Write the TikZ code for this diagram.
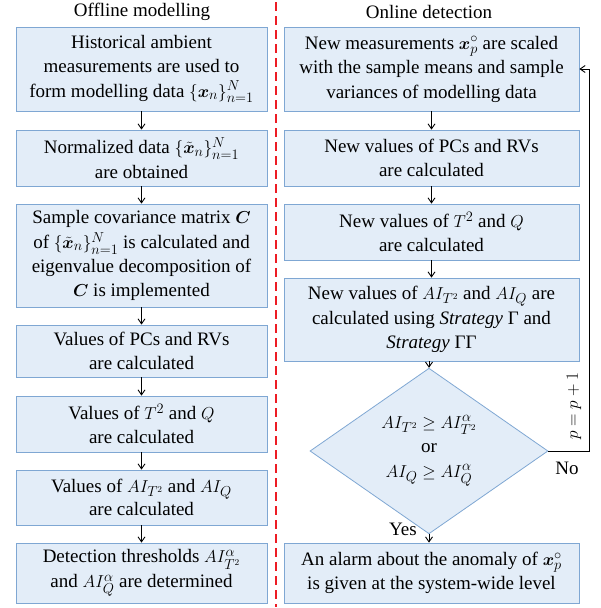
\documentclass[tikz,border=0pt]{standalone}
\usepackage{amsmath,bm}
\usepackage{fontspec}
\setmainfont{Liberation Serif}
\usetikzlibrary{shapes.geometric,arrows.meta}
\definecolor{boxfill}{RGB}{227,237,248}
\definecolor{boxline}{RGB}{127,167,211}
\definecolor{divred}{RGB}{237,28,36}
\tikzset{
  every node/.style={font=\fontsize{19}{23.5}\selectfont},
  stepbox/.style={draw=boxline, fill=boxfill, line width=0.8pt, align=center, inner sep=0pt},
  lbox/.style={stepbox, minimum width=251pt},
  rbox/.style={stepbox, minimum width=295pt},
  decbox/.style={draw=boxline, fill=boxfill, line width=0.8pt, diamond, align=center, inner sep=0pt, minimum width=238pt, minimum height=145pt},
  arr/.style={-{Straight Barb[length=5pt,width=7pt]}, line width=0.9pt, black},
  plain/.style={inner sep=0pt}
}
\begin{document}
\begin{tikzpicture}[x=1pt,y=-1pt]
\useasboundingbox (0,0) rectangle (601,608);
\draw[divred, line width=1.8pt, dash pattern=on 9pt off 5pt] (276,2) -- (276,607);
\node[plain] (t1) at (142,12) {Offline modelling};
\node[plain] (t2) at (429,12) {Online detection};
% left column
\node[lbox, minimum height=84pt] (L1) at (141.5,69) {Historical ambient\\[1pt]measurements are used to\\[1pt]form modelling data $\{\bm{x}_n\}_{n=1}^{N}$};
\node[lbox, minimum height=56pt] (L2) at (141.5,158) {Normalized data $\{\tilde{\bm{x}}_n\}_{n=1}^{N}$\\[1pt]are obtained};
\node[lbox, minimum height=103pt] (L3) at (141.5,255.5) {Sample covariance matrix $\bm{C}$\\[1pt]of $\{\tilde{\bm{x}}_n\}_{n=1}^{N}$ is calculated and\\[1pt]eigenvalue decomposition of\\$\bm{C}$ is implemented};
\node[lbox, minimum height=52pt] (L4) at (141.5,351) {Values of PCs and RVs\\are calculated};
\node[lbox, minimum height=56pt] (L5) at (141.5,424) {Values of $T^2$ and $Q$\\are calculated};
\node[lbox, minimum height=55pt] (L6) at (141.5,497.5) {Values of $AI_{T^2}$ and $AI_Q$\\are calculated};
\node[lbox, minimum height=60pt] (L7) at (141.5,573) {Detection thresholds $AI_{T^2}^{\alpha}$\\[1pt]and $AI_Q^{\alpha}$ are determined};
% right column
\node[rbox, minimum height=84pt] (R1) at (431.5,69) {New measurements $\bm{x}_p^{\circ}$ are scaled\\[1pt]with the sample means and sample\\[1pt]variances of modelling data};
\node[rbox, minimum height=56pt] (R2) at (431.5,158) {New values of PCs and RVs\\[1pt]are calculated};
\node[rbox, minimum height=56pt] (R3) at (431.5,232) {New values of $T^2$ and $Q$\\[1pt]are calculated};
\node[rbox, minimum height=83pt] (R4) at (431.5,319.5) {New values of $AI_{T^2}$ and $AI_Q$ are\\[1pt]calculated using \textit{Strategy} Γ and\\[1pt]\textit{Strategy} ΓΓ};
\node[decbox] (D) at (429,451) {$AI_{T^2}\geq AI_{T^2}^{\alpha}$\\[1pt]or\\[1pt]$AI_Q\geq AI_Q^{\alpha}$};
\node[rbox, minimum height=60pt] (R5) at (431.5,573) {An alarm about the anomaly of $\bm{x}_p^{\circ}$\\[1pt]is given at the system-wide level};
% arrows
\draw[arr] (L1) -- (L2);
\draw[arr] (L2) -- (L3);
\draw[arr] (L3) -- (L4);
\draw[arr] (L4) -- (L5);
\draw[arr] (L5) -- (L6);
\draw[arr] (L6) -- (L7);
\draw[arr] (R1) -- (R2);
\draw[arr] (R2) -- (R3);
\draw[arr] (R3) -- (R4);
\draw[arr] (R4.south -| D.north) -- (D.north);
\draw[arr] (D.south) -- (D.south |- R5.north);
\node[plain] (yes) at (403,529) {Yes};
\coordinate (fb) at (589,451);
\draw[arr] (D.east) -- (fb) |- (R1.east);
\node[plain, rotate=90] (pl) at (574,406) {$p=p+1$};
\node[plain] (no) at (567,468) {No};
\end{tikzpicture}
\end{document}
